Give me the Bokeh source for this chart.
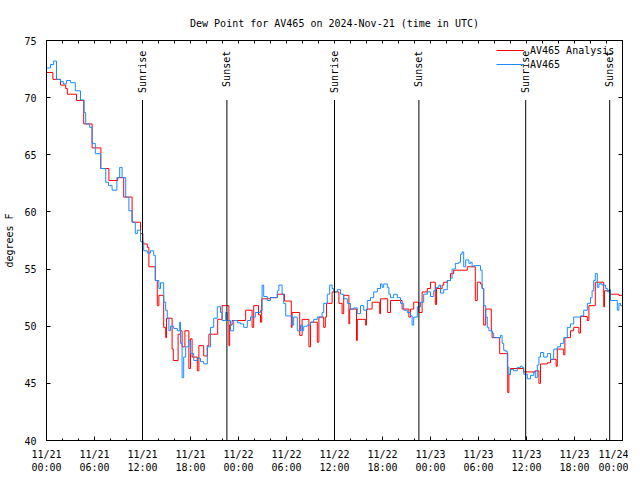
import math
from datetime import datetime, timezone
from bokeh.plotting import figure
from bokeh.models import (Range1d, FixedTicker, LinearAxis, Legend, LegendItem,
                          ColumnDataSource)
from bokeh.embed import file_html
from bokeh.resources import INLINE
from bokeh.core.properties import value

TITLE = "Dew Point for AV465 on 2024-Nov-21 (time in UTC)"
Y_LABEL = "degrees F"
START = datetime(2024, 11, 21, tzinfo=timezone.utc)
SPAN_HOURS = 72

# AV465 Analysis (hours since 2024-11-21 00:00 UTC, dew point F)
analysis_hours = [
    0, 0.8, 1.75, 2.4, 2.6, 3.75, 4.65, 5.7, 6.8, 7.8,
    8.9, 9.65, 10.7, 11.75, 12.05, 12.6, 12.8, 13.6, 13.85, 14.05,
    14.65, 14.9, 15.0, 15.7, 15.85, 16.45, 16.75, 16.95, 17.3, 17.8,
    18.0, 18.2, 18.85, 19.05, 19.65, 20.1, 20.3, 21.4, 21.95, 22.8,
    22.9, 23.2, 24.9, 25.7, 25.9, 26.5, 26.75, 26.9, 28.0, 28.85,
    29.75, 30.6, 30.7, 31.65, 31.95, 32.8, 33.0, 33.85, 34.05, 34.65,
    34.85, 35.0, 35.7, 36.55, 36.95, 37.15, 37.8, 37.9, 38.75, 38.85,
    39.9, 40.0, 40.7, 41.65, 41.75, 42.65, 43.0, 44.45, 45.3, 45.5,
    45.9, 46.55, 46.95, 47.6, 48.0, 48.6, 48.75, 49.45, 49.65, 50.1,
    50.5, 50.9, 52.6, 53.6, 53.85, 54.25, 54.45, 54.65, 54.9, 55.6,
    55.7, 56.65, 57.65, 57.8, 58.0, 59.65, 61.1, 61.55, 61.75, 62.6,
    63.0, 63.7, 63.85, 64.65, 64.8, 65.5, 65.9, 66.55, 66.75, 67.6,
    67.8, 68.6, 69.65, 69.75, 70.5, 71.55, 72.0,
]
analysis_dewpt = [
    72.2, 71.6, 71.1, 70.8, 70.3, 69.75, 67.7, 65.6, 63.8, 62.75,
    63.0, 61.3, 59.1, 58.1, 57.2, 56.9, 55.2, 54.0, 51.8, 52.7,
    49.9, 49.0, 50.7, 48.0, 47.0, 49.3, 49.6, 48.2, 49.6, 46.3,
    48.9, 47.3, 46.1, 48.3, 47.4, 48.3, 49.3, 50.6, 51.8, 48.3,
    50.1, 50.5, 51.4, 49.9, 51.8, 51.0, 50.35, 52.4, 52.5, 52.8,
    52.2, 49.9, 51.2, 49.2, 50.6, 48.2, 50.35, 48.6, 50.8, 49.9,
    50.8, 52.0, 53.0, 52.0, 51.1, 52.7, 50.2, 51.5, 48.75, 50.6,
    50.1, 51.5, 52.1, 51.1, 52.4, 51.2, 52.25, 51.5, 50.8, 51.5,
    52.1, 51.2, 53.0, 53.3, 53.85, 51.9, 53.3, 53.6, 53.85, 54.0,
    54.6, 54.9, 55.2, 52.25, 53.85, 53.7, 53.3, 50.1, 51.5, 49.6,
    49.0, 47.6, 44.2, 45.8, 46.3, 46.0, 46.1, 45.0, 46.7, 46.8,
    47.1, 46.5, 48.0, 47.5, 49.0, 49.6, 49.9, 49.4, 50.85, 50.5,
    51.8, 53.85, 51.7, 53.1, 52.8, 52.7, 52.7,
]

# AV465 station observations
station_hours = [
    0, 0.5, 0.9, 1.25, 1.75, 2.1, 2.5, 3.0, 3.6, 4.25,
    4.7, 4.9, 5.4, 5.7, 6.1, 6.75, 7.4, 7.75, 8.2, 8.8,
    9.15, 9.45, 9.9, 10.3, 10.7, 11.1, 11.35, 11.75, 12.15, 12.6,
    13.0, 13.4, 13.6, 14.05, 14.25, 14.65, 14.9, 15.1, 15.3, 15.5,
    15.9, 16.35, 16.65, 16.75, 16.95, 17.15, 17.4, 17.8, 18.0, 18.4,
    18.85, 19.25, 19.65, 20.1, 20.5, 20.9, 21.35, 21.75, 21.95, 22.4,
    22.6, 23.0, 23.4, 23.85, 24.25, 24.65, 25.1, 25.5, 26.1, 26.75,
    26.95, 27.15, 27.6, 28.0, 28.85, 29.05, 29.45, 29.65, 29.9, 30.5,
    30.7, 30.9, 31.35, 31.75, 31.95, 32.15, 32.6, 33.0, 33.4, 33.85,
    34.25, 34.45, 34.65, 35.1, 35.4, 35.7, 35.9, 36.35, 36.75, 37.15,
    37.6, 38.0, 38.4, 38.85, 39.25, 39.65, 40.1, 40.5, 40.9, 41.35,
    41.75, 41.95, 42.15, 42.6, 42.8, 43.0, 43.4, 43.85, 44.25, 44.65,
    45.1, 45.5, 45.7, 45.9, 46.35, 46.75, 47.15, 47.6, 48.0, 48.4,
    48.6, 49.05, 49.25, 49.65, 50.1, 50.5, 50.7, 51.1, 51.55, 51.75,
    51.95, 52.15, 52.4, 52.8, 53.0, 53.2, 53.4, 54.05, 54.25, 54.45,
    54.65, 54.9, 55.1, 55.3, 55.7, 55.9, 56.55, 56.75, 56.95, 57.15,
    57.4, 57.6, 57.8, 58.0, 58.4, 58.85, 59.25, 59.45, 59.65, 60.1,
    60.5, 60.9, 61.1, 61.35, 61.55, 61.75, 62.15, 62.6, 63.0, 63.4,
    63.85, 64.25, 64.65, 65.1, 65.5, 65.9, 66.35, 66.75, 67.15, 67.6,
    68.0, 68.2, 68.4, 68.6, 68.85, 69.05, 69.45, 69.9, 70.1, 70.3,
    70.5, 71.1, 71.35, 71.55, 71.75, 72.0,
]
station_dewpt = [
    72.6, 72.9, 73.2, 71.6, 71.4, 71.2, 71.5, 71.3, 70.6, 69.8,
    68.7, 67.7, 67.4, 66.0, 65.1, 63.8, 62.6, 62.3, 61.9, 63.0,
    63.9, 63.0, 61.3, 60.1, 59.1, 58.1, 58.4, 57.4, 56.6, 56.4,
    56.6, 56.2, 54.0, 53.3, 53.8, 52.1, 51.4, 50.7, 49.6, 50.0,
    49.8, 49.6, 50.35, 48.5, 45.5, 47.3, 48.2, 48.75, 47.6, 47.0,
    47.2, 46.9, 46.7, 48.2, 49.9, 50.7, 51.7, 51.2, 50.5, 51.2,
    50.5, 49.6, 50.5, 50.3, 50.2, 49.9, 50.5, 50.8, 51.2, 51.4,
    53.6, 52.6, 52.25, 52.5, 53.1, 53.6, 52.8, 52.0, 50.9, 50.9,
    50.1, 50.8, 49.6, 50.1, 49.6, 50.0, 50.1, 50.35, 50.6, 50.8,
    50.8, 51.2, 52.0, 52.8, 53.6, 53.3, 53.0, 53.2, 52.8, 52.4,
    52.0, 51.5, 51.6, 51.1, 51.8, 51.4, 52.25, 52.5, 53.0, 53.3,
    53.7, 53.4, 53.7, 53.4, 52.8, 52.5, 52.8, 52.5, 52.0, 51.4,
    51.2, 50.9, 50.1, 50.8, 51.7, 52.1, 52.8, 53.0, 52.6, 53.1,
    53.4, 53.6, 52.9, 53.2, 54.0, 54.2, 55.0, 55.5, 55.6, 56.3,
    56.5, 55.2, 55.8, 55.5, 55.6, 55.2, 55.3, 55.3, 54.9, 53.3,
    51.8, 50.8, 49.9, 49.6, 49.4, 49.0, 49.0, 49.2, 48.5, 47.9,
    47.8, 46.4, 45.8, 46.2, 46.1, 46.4, 46.5, 46.4, 45.8, 45.4,
    45.7, 46.0, 45.5, 46.6, 47.3, 47.7, 47.3, 47.6, 47.1, 48.0,
    48.2, 48.5, 49.0, 49.9, 50.2, 50.8, 50.8, 50.9, 51.4, 52.0,
    52.5, 53.1, 54.0, 54.6, 53.4, 53.7, 53.6, 53.3, 53.0, 53.2,
    52.25, 52.25, 51.4, 52.0, 51.8, 51.9,
]

# Sunrise / sunset markers
event_hours = [12.0, 22.55, 36.0, 46.55, 59.9, 70.4]
event_names = ["Sunrise", "Sunset", "Sunrise", "Sunset", "Sunrise", "Sunset"]

# Axis ticks
y_ticks = [40, 45, 50, 55, 60, 65, 70, 75]
x_tick_hours = [0, 6, 12, 18, 24, 30, 36, 42, 48, 54, 60, 66, 72]
x_tick_labels = ["11/21\n00:00", "11/21\n06:00", "11/21\n12:00", "11/21\n18:00",
                 "11/22\n00:00", "11/22\n06:00", "11/22\n12:00", "11/22\n18:00",
                 "11/23\n00:00", "11/23\n06:00", "11/23\n12:00", "11/23\n18:00",
                 "11/24\n00:00"]
x_minor_step_hours = 2

T0 = START.timestamp() * 1000.0


def to_ms(h):
    return T0 + h * 3600000.0


FONT = "DejaVu Sans Mono"
FS = "10px"
RED = "#ff0000"
BLUE = "#1a8cff"

p = figure(frame_width=576, frame_height=400, x_axis_type="datetime",
           output_backend="svg", toolbar_location=None,
           x_range=Range1d(to_ms(0), to_ms(SPAN_HOURS)),
           y_range=Range1d(y_ticks[0], y_ticks[-1]),
           min_border_left=46, min_border_right=6,
           min_border_top=40, min_border_bottom=34,
           title=TITLE)
p.title.align = "center"
p.title.text_font = FONT
p.title.text_font_size = FS
p.title.text_font_style = "normal"
p.title.text_color = "black"
p.title.standoff = 23
p.grid.visible = False
p.outline_line_color = "black"
p.background_fill_color = "white"
p.border_fill_color = "white"

major_ms = [to_ms(h) for h in x_tick_hours]
minor_ms = [to_ms(h) for h in range(0, SPAN_HOURS + 1, x_minor_step_hours)]


def style_axis(ax):
    ax.axis_line_color = "black"
    ax.major_tick_line_color = "black"
    ax.minor_tick_line_color = "black"
    ax.major_tick_in = 4
    ax.major_tick_out = 0
    ax.minor_tick_in = 2
    ax.minor_tick_out = 0
    ax.major_label_text_font = FONT
    ax.major_label_text_font_size = FS
    ax.major_label_text_color = "black"


xa = p.xaxis[0]
xa.ticker = FixedTicker(ticks=major_ms, minor_ticks=minor_ms)
xa.major_label_overrides = {m: lab for m, lab in zip(major_ms, x_tick_labels)}
style_axis(xa)
xa.major_label_standoff = 8
xa.major_label_text_line_height = 1.25

ya = p.yaxis[0]
ya.ticker = FixedTicker(ticks=y_ticks, minor_ticks=[])
style_axis(ya)
ya.major_label_standoff = 10
ya.axis_label = Y_LABEL
ya.axis_label_text_font = FONT
ya.axis_label_text_font_size = FS
ya.axis_label_text_font_style = "normal"
ya.axis_label_text_color = "black"
ya.axis_label_standoff = 6

# mirrored tick marks (no labels) on top and right
top = LinearAxis(ticker=FixedTicker(ticks=[], minor_ticks=minor_ms))
style_axis(top)
top.minor_tick_in = 3
p.add_layout(top, "above")
right = LinearAxis(ticker=FixedTicker(ticks=[], minor_ticks=y_ticks))
style_axis(right)
right.minor_tick_in = 4
p.add_layout(right, "right")

src_a = ColumnDataSource(dict(t=[to_ms(h) for h in analysis_hours], v=analysis_dewpt))
src_s = ColumnDataSource(dict(t=[to_ms(h) for h in station_hours], v=station_dewpt))
r_a = p.step("t", "v", source=src_a, mode="after", line_color=RED, line_width=1)
r_s = p.step("t", "v", source=src_s, mode="after", line_color=BLUE, line_width=1)

# event lines and labels
LINE_TOP = 69.8
LABEL_TOP = 74.1
ev_ms = [to_ms(h) for h in event_hours]
p.segment(x0=ev_ms, y0=[y_ticks[0]] * len(ev_ms), x1=ev_ms, y1=[LINE_TOP] * len(ev_ms),
          line_color="black", line_width=1)
p.text(x=ev_ms, y=[LABEL_TOP] * len(ev_ms), text=event_names, angle=math.pi / 2,
       text_align="right", text_baseline="middle",
       text_font=value(FONT), text_font_size=FS, text_color="black")

legend = Legend(items=[LegendItem(label="AV465 Analysis", renderers=[r_a]),
                       LegendItem(label="AV465", renderers=[r_s])],
                location=(448, 368), border_line_alpha=0,
                background_fill_alpha=0, label_text_font=FONT,
                label_text_font_size=FS, label_text_color="black",
                glyph_width=28, glyph_height=12,
                label_height=12, spacing=2, padding=2, margin=0,
                label_standoff=6)
p.add_layout(legend)

open("out.html", "w").write(file_html(p, INLINE))
